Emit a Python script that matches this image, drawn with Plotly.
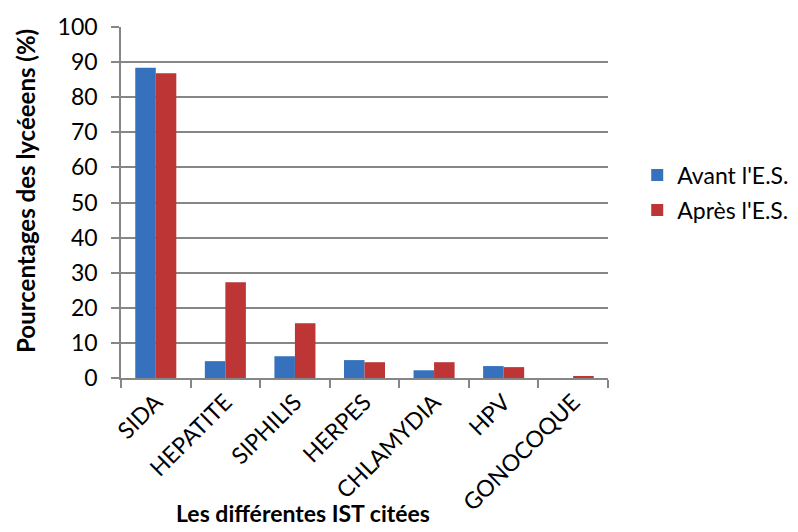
import plotly.graph_objects as go

categories = ["SIDA", "HEPATITE", "SIPHILIS", "HERPES", "CHLAMYDIA", "HPV", "GONOCOQUE"]
avant = [88.4, 4.8, 6.2, 5.1, 2.2, 3.4, 0.0]
apres = [86.8, 27.3, 15.6, 4.5, 4.5, 3.1, 0.5]
series_names = ["Avant l'E.S.", "Après l'E.S."]
y_ticks = [0, 10, 20, 30, 40, 50, 60, 70, 80, 90, 100]

FONT = "Lato, Carlito, Calibri, sans-serif"
GRID = "#868686"

fig = go.Figure()
fig.add_trace(go.Bar(x=categories, y=avant, name=series_names[0], legendgroup="a",
                     marker=dict(color="#3571BC", line=dict(width=0))))
fig.add_trace(go.Bar(x=categories, y=apres, name=series_names[1], legendgroup="b",
                     marker=dict(color="#BD3534", line=dict(width=0))))

fig.update_layout(
    width=790, height=524,
    margin=dict(l=113, r=190, t=19, b=154, autoexpand=False),
    paper_bgcolor="white", plot_bgcolor="white",
    barmode="group", bargap=0.41, bargroupgap=0,
    font=dict(family=FONT, size=23, color="black"),
    legend=dict(x=1.06, y=0.528, xanchor="left", yanchor="middle",
                font=dict(size=23), tracegroupgap=2, bgcolor="rgba(0,0,0,0)"),
    showlegend=True,
)
fig.update_yaxes(
    range=[0, 100], tickvals=y_ticks, showgrid=True, gridcolor=GRID, gridwidth=1.5,
    showline=True, linecolor=GRID, linewidth=1.5, ticks="outside", ticklen=8,
    tickcolor=GRID, tickwidth=1.5, tickfont=dict(size=23), zeroline=False,
    ticklabelstandoff=9, automargin=False,
)
fig.update_xaxes(
    showline=True, linecolor=GRID, linewidth=1.5, ticks="outside", tickson="boundaries",
    ticklen=8, tickcolor=GRID, tickwidth=1.5, tickangle=-45, tickfont=dict(size=23),
    showgrid=False, automargin=False,
)
fig.add_annotation(text="<b>Pourcentages des lycéeens (%)</b>", xref="paper", yref="paper",
                   x=-0.195, y=0.533, xanchor="center", yanchor="middle", textangle=-90,
                   showarrow=False, font=dict(size=24))
fig.add_annotation(text="<b>Les différentes IST citées</b>", xref="paper", yref="paper",
                   x=0.374, y=-0.385, xanchor="center", yanchor="middle",
                   showarrow=False, font=dict(size=23))

fig.write_html("out.html")
